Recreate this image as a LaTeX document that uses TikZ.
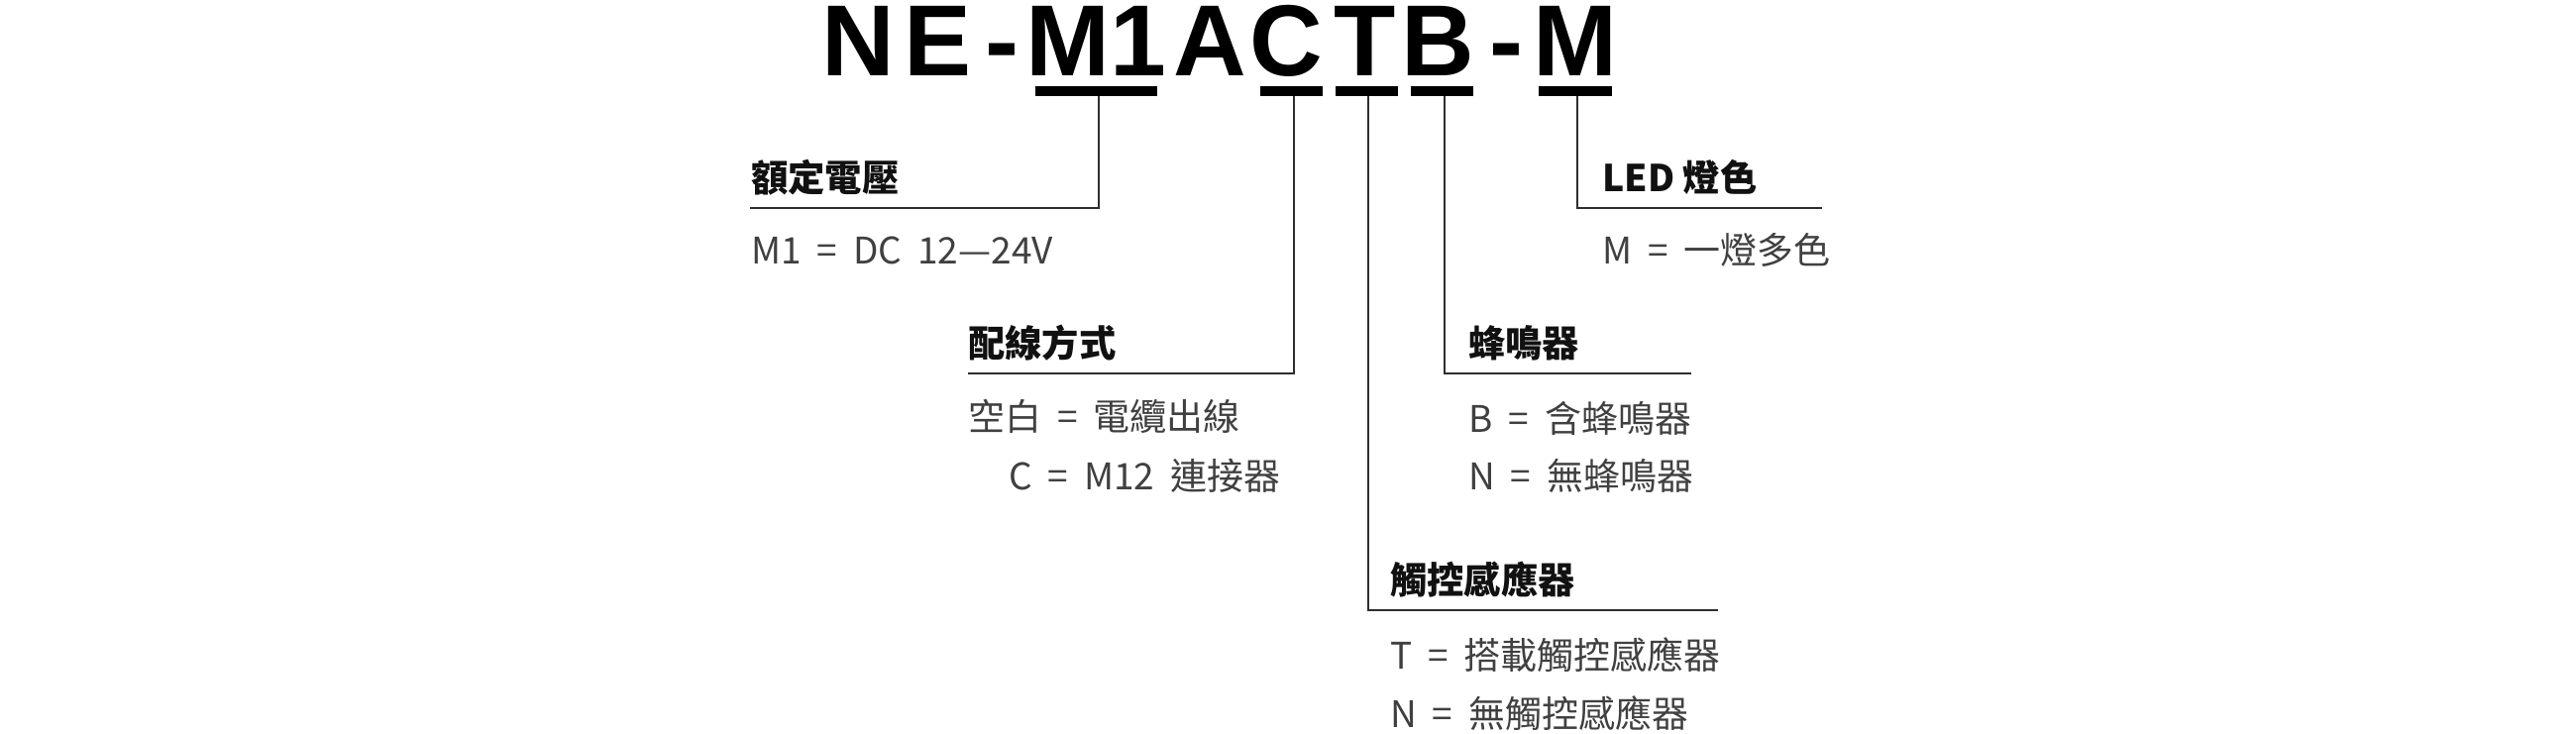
\documentclass[tikz,border=0pt]{standalone}
\usepackage{fontspec}
\setmainfont{Noto Sans CJK TC}
\newfontfamily\titlefont{Liberation Sans}
\newfontfamily\cjkfont{Noto Sans CJK TC}
\definecolor{headc}{HTML}{111111}
\definecolor{valc}{HTML}{404040}
\definecolor{linec}{HTML}{2E2E2E}
\newcommand{\tlet}[2]{\makebox[#1pt][c]{#2}}
\newcommand{\widespaces}{\spaceskip=16pt\relax}
\tikzset{
  titletext/.style={anchor=base west, inner sep=0pt, font=\titlefont\bfseries\fontsize{102}{110}\selectfont, text=black},
  headtext/.style={anchor=base west, inner sep=0pt, font=\cjkfont\bfseries\fontsize{37.3}{42}\selectfont, text=headc},
  valtext/.style={anchor=base west, inner sep=0pt, font=\cjkfont\fontsize{37}{42}\selectfont, text=valc, execute at begin node=\widespaces},
  barbox/.style={fill=black, draw=none, inner sep=0pt, minimum height=10pt},
  leader/.style={draw=linec, line width=2pt},
}
\begin{document}
\begin{tikzpicture}[x=1pt,y=-1pt]
\useasboundingbox (0,0) rectangle (2600,740);
% title
\node[titletext] (title) at (821.75,76) {\tlet{89.5}{N}\tlet{69.75}{E}\tlet{60.5}{-}\tlet{72.5}{M}\tlet{70}{1}\tlet{74.5}{A}\tlet{80}{C}\tlet{77.5}{T}\tlet{70.5}{B}\tlet{67.5}{-}\tlet{72}{M}};
% bars
\node[barbox, minimum width=123pt] (bM1) at (1106.5,92) {};
\node[barbox, minimum width=63pt] (bC) at (1303.5,92) {};
\node[barbox, minimum width=63pt] (bT) at (1379.5,92) {};
\node[barbox, minimum width=63pt] (bB) at (1455.5,92) {};
\node[barbox, minimum width=74pt] (bM) at (1590,92) {};
% corner coordinates
\coordinate (tM1) at (1109,97);  \coordinate (kM1) at (1109,210); \coordinate (eM1) at (757,210);
\coordinate (tC) at (1306,97);   \coordinate (kC) at (1306,377);  \coordinate (eC) at (977,377);
\coordinate (tT) at (1381,97);   \coordinate (kT) at (1381,616);  \coordinate (eT) at (1734,616);
\coordinate (tB) at (1458,97);   \coordinate (kB) at (1458,377);  \coordinate (eB) at (1707,377);
\coordinate (tM) at (1592,97);   \coordinate (kM) at (1592,210);  \coordinate (eM) at (1839,210);
% leaders
\draw[leader] (tM1) -- (kM1) -- (eM1);
\draw[leader] (tC) -- (kC) -- (eC);
\draw[leader] (tT) -- (kT) -- (eT);
\draw[leader] (tB) -- (kB) -- (eB);
\draw[leader] (tM) -- (kM) -- (eM);
% rated voltage
\node[headtext] (hV) at (758,193) {額定電壓};
\node[valtext] (vV) at (758,266) {M1 = DC 12—24V};
% wiring
\node[headtext] (hW) at (977,360) {配線方式};
\node[valtext] (vW1) at (977,434) {空白 = 電纜出線};
\node[valtext] (vW2) at (1018,494) {C = M12 連接器};
% touch sensor
\node[headtext] (hT) at (1403,599) {觸控感應器};
\node[valtext] (vT1) at (1403,675) {T = 搭載觸控感應器};
\node[valtext] (vT2) at (1403,734) {N = 無觸控感應器};
% buzzer
\node[headtext] (hB) at (1482,360) {蜂鳴器};
\node[valtext] (vB1) at (1482,436) {B = 含蜂鳴器};
\node[valtext] (vB2) at (1482,494) {N = 無蜂鳴器};
% LED color
\node[headtext] (hM) at (1617,193) {LED 燈色};
\node[valtext] (vM) at (1617,266) {M = 一燈多色};
\end{tikzpicture}
\end{document}
